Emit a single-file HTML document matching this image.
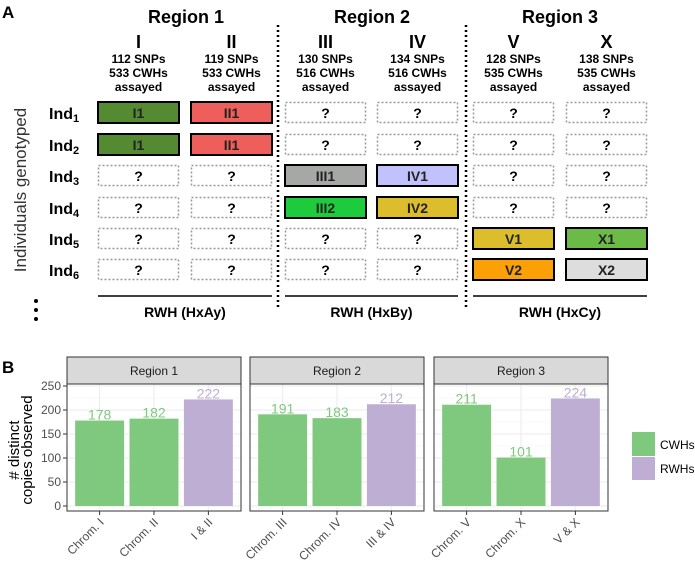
<!DOCTYPE html>
<html><head><meta charset="utf-8"><style>
body{margin:0;background:#fff}
svg{display:block;font-family:"Liberation Sans",Arial,sans-serif}
.b{font-weight:bold}
</style></head><body>
<svg id="fig" width="695" height="563" viewBox="0 0 695 563">
<g id="panelA">
<text x="2" y="18" font-size="17" class="b">A</text>
<text x="186" y="23" font-size="18" class="b" text-anchor="middle">Region 1</text>
<text x="372" y="23" font-size="18" class="b" text-anchor="middle">Region 2</text>
<text x="560" y="23" font-size="18" class="b" text-anchor="middle">Region 3</text>
<line x1="278" y1="25" x2="278" y2="308" stroke="#000" stroke-width="2.5" stroke-dasharray="2,3"/>
<line x1="466" y1="25" x2="466" y2="308" stroke="#000" stroke-width="2.5" stroke-dasharray="2,3"/>
<text transform="translate(26,190) rotate(-90)" font-size="17" fill="#333" text-anchor="middle">Individuals genotyped</text>
<g><circle cx="36" cy="301" r="2"/><circle cx="36" cy="310" r="2"/><circle cx="36" cy="319" r="2"/></g>
</g>
<g id="gridA"></g>
<g id="panelB">
<text x="2" y="373" font-size="17" class="b">B</text>
<text transform="translate(19,450) rotate(-90)" font-size="15" text-anchor="middle"><tspan x="0" dy="0"># distinct</tspan><tspan x="0" dy="13">copies observed</tspan></text>
</g>
<g id="chart"></g>
<g>
<rect x="632" y="432" width="23" height="24" fill="#7fc97f"/>
<rect x="632" y="457" width="23" height="23" fill="#beaed4"/>
<text x="660" y="449" font-size="12">CWHs</text>
<text x="660" y="473" font-size="12">RWHs</text>
</g>
</svg>
<script>
const NS="http://www.w3.org/2000/svg";
function mk(tag,attrs,parent,text){const e=document.createElementNS(NS,tag);for(const k in attrs)e.setAttribute(k,attrs[k]);if(text!==undefined)e.textContent=text;parent.appendChild(e);return e;}
// ---- Panel A grid ----
const colNames=["I","II","III","IV","V","X"];
const colSnps=["112 SNPs","119 SNPs","130 SNPs","134 SNPs","128 SNPs","138 SNPs"];
const colCwhs=["533 CWHs","533 CWHs","516 CWHs","516 CWHs","535 CWHs","535 CWHs"];
const colX=[98,191,285,377,473,566];
const rowY=[102,134,165,197,228,259];
const cells=[
["I1","II1","?","?","?","?"],
["I1","II1","?","?","?","?"],
["?","?","III1","IV1","?","?"],
["?","?","III2","IV2","?","?"],
["?","?","?","?","V1","X1"],
["?","?","?","?","V2","X2"]];
const fills={"I1":"#548b32","II1":"#ee5e5b","III1":"#a6a8a6","IV1":"#c1c1fd","III2":"#1ecb3d","IV2":"#dcbd2c","V1":"#dcbd2c","X1":"#6cbb46","V2":"#fba007","X2":"#dddddd"};
const gA=document.getElementById("gridA");
const W=81,H=21;
colNames.forEach((n,i)=>{
 const cx=colX[i]+W/2;
 const t1=mk("text",{x:cx,y:48,"font-size":18,"font-weight":"bold","text-anchor":"middle"},gA,n);
 
 
 const t2=mk("text",{x:cx,y:63,"font-size":12,"font-weight":"bold","text-anchor":"middle"},gA,colSnps[i]);
 
 
 const t3=mk("text",{x:cx,y:77,"font-size":12,"font-weight":"bold","text-anchor":"middle"},gA,colCwhs[i]);
 
 
 const t4=mk("text",{x:cx,y:91,"font-size":12,"font-weight":"bold","text-anchor":"middle"},gA,"assayed");
 
 
});
rowY.forEach((y,r)=>{
 const lab=mk("text",{x:49,y:y+17,"font-size":16,"font-weight":"bold"},gA);
 
 
 lab.appendChild(document.createTextNode("Ind"));
 mk("tspan",{"font-size":11,dy:3},lab,String(r+1));
 cells[r].forEach((v,c)=>{
  const x=colX[c];
  const known=v!=="?";
  const rc=mk("rect",known?{x:x,y:y,width:W,height:H,fill:fills[v],stroke:"#000","stroke-width":2}:{x:x+0.5,y:y+0.5,width:W-1,height:H-1,fill:"#fff",stroke:"#999","stroke-width":1.5,"stroke-dasharray":"2,2"},gA);
  
  
  const t=mk("text",{x:x+W/2,y:y+16,"font-size":14,"font-weight":"bold","text-anchor":"middle",fill:known?"#222":"#000"},gA,v);
  
  
 });
});
const rwh=["RWH (HxAy)","RWH (HxBy)","RWH (HxCy)"];
[[98,272],[285,458],[473,647]].forEach((s,i)=>{
 const l=mk("line",{x1:s[0],x2:s[1],y1:296,y2:296,stroke:"#000","stroke-width":1.5},gA);
 
 
 const t=mk("text",{x:(s[0]+s[1])/2,y:317,"font-size":14,"font-weight":"bold","text-anchor":"middle"},gA,rwh[i]);
 
 
});
// ---- Panel B chart ----
const facets=["Region 1","Region 2","Region 3"];
const categories=[["Chrom. I","Chrom. II","I & II"],["Chrom. III","Chrom. IV","III & IV"],["Chrom. V","Chrom. X","V & X"]];
const values=[[178,182,222],[191,183,212],[211,101,224]];
const types=[["CWHs","CWHs","RWHs"],["CWHs","CWHs","RWHs"],["CWHs","CWHs","RWHs"]];
const yTicks=[0,50,100,150,200,250];
const colors={CWHs:"#7fc97f",RWHs:"#beaed4"};
const panelX=[67,250,434], panelW=174, plotTop=384, plotBottom=511;
const y0=506, y250=386;
const yS=v=>y0-(y0-y250)*v/250;
const g=document.getElementById("chart");
facets.forEach((f,p)=>{
 const px=panelX[p];
 const unit=panelW/3.2;
 const cx=i=>px+(i+1-0.4)*unit;
 const strip=mk("rect",{x:px,y:357,width:panelW,height:27,fill:"#d9d9d9",stroke:"#333","stroke-width":1},g);
 
 
 const st=mk("text",{x:px+panelW/2,y:375,"font-size":12,"text-anchor":"middle",fill:"#1a1a1a"},g,f);
 
 
 const bg=mk("rect",{x:px,y:plotTop,width:panelW,height:plotBottom-plotTop,fill:"#fff"},g);
 
 
 for(let k=0;k<yTicks.length;k++){
  const gl=mk("line",{x1:px,x2:px+panelW,y1:yS(yTicks[k]),y2:yS(yTicks[k]),stroke:"#ebebeb","stroke-width":1},g);
  
  
  if(k<yTicks.length-1){
   const m=(yTicks[k]+yTicks[k+1])/2;
   const gm=mk("line",{x1:px,x2:px+panelW,y1:yS(m),y2:yS(m),stroke:"#f3f3f3","stroke-width":0.6},g);
   
   
  }
 }
 categories[p].forEach((c,i)=>{
  const vg=mk("line",{x1:cx(i),x2:cx(i),y1:plotTop,y2:plotBottom,stroke:"#ebebeb"},g);
  
  
 });
 categories[p].forEach((c,i)=>{
  const v=values[p][i], bw=unit*0.9;
  const b=mk("rect",{x:cx(i)-bw/2,y:yS(v),width:bw,height:y0-yS(v),fill:colors[types[p][i]]},g);
  
  
  const vl=mk("text",{x:cx(i),y:yS(v)-1,"font-size":14,"text-anchor":"middle",fill:colors[types[p][i]]},g,String(v));
  
  
  const tk=mk("line",{x1:cx(i),x2:cx(i),y1:plotBottom,y2:plotBottom+4,stroke:"#333"},g);
  
  
  const xl=mk("text",{x:0,y:0,"font-size":12,"text-anchor":"end",fill:"#4d4d4d",transform:`translate(${cx(i)+5},${plotBottom+12}) rotate(-45)`},g,c);
  
  
 });
 const fr=mk("rect",{x:px,y:plotTop,width:panelW,height:plotBottom-plotTop,fill:"none",stroke:"#333","stroke-width":1},g);
 
 
});
yTicks.forEach(t=>{
 const tk=mk("line",{x1:63,x2:67,y1:yS(t),y2:yS(t),stroke:"#333"},g);
 
 
 const tl=mk("text",{x:61,y:yS(t)+4,"font-size":12,"text-anchor":"end",fill:"#4d4d4d"},g,String(t));
 
 
});
</script>
</body></html>
